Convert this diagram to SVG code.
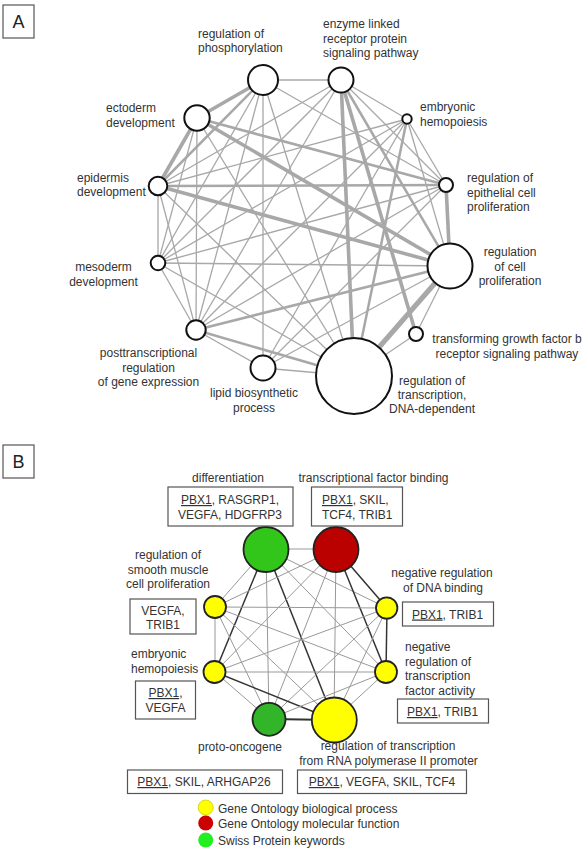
<svg xmlns="http://www.w3.org/2000/svg" width="585" height="856" viewBox="0 0 585 856">
<style>
text{font-family:"Liberation Sans",Arial,sans-serif;font-size:12px;fill:#333}
.c{text-anchor:middle}
.e1{stroke:#a8a8a8;stroke-width:1.3;fill:none}
.e2{stroke:#a8a8a8;stroke-width:2.5;fill:none}
.e3{stroke:#a8a8a8;stroke-width:3.6;fill:none}
.e4{stroke:#a8a8a8;stroke-width:5;fill:none}
.na{fill:#fff;stroke:#111;stroke-width:2}
.bl{stroke:#999;stroke-width:1;fill:none}
.bd{stroke:#333;stroke-width:1.5;fill:none}
.nb{stroke:#222;stroke-width:1.8}
.box{fill:#fff;stroke:#555;stroke-width:1.2}
.u{text-decoration:underline}
.lbl{font-size:18px;fill:#222}
</style>
<g id="labelA"><rect x="3" y="5" width="31" height="33" class="box"/><text x="18.5" y="28" class="c lbl">A</text></g>
<g id="connectorsA">
<line class="e1" x1="263" y1="80" x2="341" y2="80"/>
<line class="e3" x1="263" y1="80" x2="197" y2="118"/>
<line class="e2" x1="263" y1="80" x2="158" y2="186"/>
<line class="e1" x1="263" y1="80" x2="446" y2="185"/>
<line class="e1" x1="263" y1="80" x2="158" y2="263"/>
<line class="e1" x1="263" y1="80" x2="196" y2="330"/>
<line class="e1" x1="263" y1="80" x2="263" y2="368"/>
<line class="e1" x1="263" y1="80" x2="354" y2="376"/>
<line class="e1" x1="341" y1="80" x2="407" y2="119"/>
<line class="e1" x1="341" y1="80" x2="446" y2="185"/>
<line class="e2" x1="341" y1="80" x2="450" y2="266"/>
<line class="e3" x1="341" y1="80" x2="416" y2="334"/>
<line class="e3" x1="341" y1="80" x2="354" y2="376"/>
<line class="e1" x1="341" y1="80" x2="158" y2="186"/>
<line class="e1" x1="341" y1="80" x2="158" y2="263"/>
<line class="e1" x1="341" y1="80" x2="196" y2="330"/>
<line class="e1" x1="407" y1="119" x2="446" y2="185"/>
<line class="e1" x1="407" y1="119" x2="450" y2="266"/>
<line class="e2" x1="407" y1="119" x2="354" y2="376"/>
<line class="e1" x1="407" y1="119" x2="263" y2="368"/>
<line class="e1" x1="407" y1="119" x2="196" y2="330"/>
<line class="e1" x1="407" y1="119" x2="158" y2="263"/>
<line class="e1" x1="407" y1="119" x2="158" y2="186"/>
<line class="e3" x1="446" y1="185" x2="450" y2="266"/>
<line class="e2" x1="446" y1="185" x2="158" y2="186"/>
<line class="e2" x1="446" y1="185" x2="197" y2="118"/>
<line class="e1" x1="446" y1="185" x2="158" y2="263"/>
<line class="e1" x1="446" y1="185" x2="196" y2="330"/>
<line class="e1" x1="446" y1="185" x2="263" y2="368"/>
<line class="e4" x1="450" y1="266" x2="354" y2="376"/>
<line class="e1" x1="450" y1="266" x2="416" y2="334"/>
<line class="e1" x1="450" y1="266" x2="158" y2="263"/>
<line class="e2" x1="450" y1="266" x2="196" y2="330"/>
<line class="e1" x1="450" y1="266" x2="263" y2="368"/>
<line class="e3" x1="450" y1="266" x2="158" y2="186"/>
<line class="e3" x1="450" y1="266" x2="197" y2="118"/>
<line class="e1" x1="416" y1="334" x2="354" y2="376"/>
<line class="e1" x1="354" y1="376" x2="263" y2="368"/>
<line class="e2" x1="354" y1="376" x2="196" y2="330"/>
<line class="e1" x1="354" y1="376" x2="158" y2="263"/>
<line class="e1" x1="354" y1="376" x2="158" y2="186"/>
<line class="e1" x1="354" y1="376" x2="197" y2="118"/>
<line class="e1" x1="263" y1="368" x2="196" y2="330"/>
<line class="e1" x1="196" y1="330" x2="158" y2="263"/>
<line class="e1" x1="196" y1="330" x2="158" y2="186"/>
<line class="e1" x1="196" y1="330" x2="197" y2="118"/>
<line class="e1" x1="158" y1="263" x2="158" y2="186"/>
<line class="e3" x1="158" y1="186" x2="197" y2="118"/>
<line class="e1" x1="158" y1="263" x2="197" y2="118"/>
</g>
<g id="nodeP"><circle class="na" cx="263" cy="80" r="15"/><text x="198" y="37.5">regulation of</text><text x="198" y="52">phosphorylation</text></g>
<g id="nodeEn"><circle class="na" cx="341" cy="80" r="12.5"/><text x="323" y="28">enzyme linked</text><text x="323" y="42.5">receptor protein</text><text x="323" y="57">signaling pathway</text></g>
<g id="nodeEH"><circle class="na" cx="407" cy="119" r="4.7"/><text x="420" y="111">embryonic</text><text x="420" y="125.5">hemopoiesis</text></g>
<g id="nodeREC"><circle class="na" cx="446" cy="185" r="7"/><text x="467" y="182">regulation of</text><text x="467" y="196.5">epithelial cell</text><text x="467" y="211">proliferation</text></g>
<g id="nodeRCP"><circle class="na" cx="450" cy="266" r="22.5"/><text x="510" y="256" class="c">regulation</text><text x="510" y="270.5" class="c">of cell</text><text x="510" y="285" class="c">proliferation</text></g>
<g id="nodeTGF"><circle class="na" cx="416" cy="334" r="7"/><text x="507" y="343" class="c">transforming growth factor b</text><text x="507" y="357.5" class="c">receptor signaling pathway</text></g>
<g id="nodeRT"><circle class="na" cx="354" cy="376" r="38"/><text x="432" y="385" class="c">regulation of</text><text x="432" y="399" class="c">transcription,</text><text x="432" y="413" class="c">DNA-dependent</text></g>
<g id="nodeL"><circle class="na" cx="263" cy="368" r="12.5"/><text x="254" y="397" class="c">lipid biosynthetic</text><text x="254" y="411.5" class="c">process</text></g>
<g id="nodePT"><circle class="na" cx="196" cy="330" r="9.7"/><text x="148.5" y="357" class="c">posttranscriptional</text><text x="148.5" y="371.5" class="c">regulation</text><text x="148.5" y="386" class="c">of gene expression</text></g>
<g id="nodeM"><circle class="na" cx="158" cy="263" r="7.3"/><text x="103.5" y="271" class="c">mesoderm</text><text x="103.5" y="285.5" class="c">development</text></g>
<g id="nodeEp"><circle class="na" cx="158" cy="186" r="9.3"/><text x="77" y="181.5">epidermis</text><text x="77" y="196">development</text></g>
<g id="nodeE"><circle class="na" cx="197" cy="118" r="12.7"/><text x="106" y="112">ectoderm</text><text x="106" y="126.5">development</text></g>

<g id="labelB"><rect x="3" y="445" width="31" height="33" class="box"/><text x="18.5" y="468" class="c lbl">B</text></g>
<g id="connectorsB">
<line class="bl" x1="266" y1="549" x2="336" y2="549"/>
<line class="bl" x1="266" y1="549" x2="215" y2="607"/>
<line class="bl" x1="266" y1="549" x2="387" y2="608"/>
<line class="bl" x1="266" y1="549" x2="386" y2="672"/>
<line class="bl" x1="266" y1="549" x2="269" y2="719"/>
<line class="bd" x1="266" y1="549" x2="215" y2="672"/>
<line class="bd" x1="266" y1="549" x2="334" y2="720"/>
<line class="bl" x1="336" y1="549" x2="215" y2="607"/>
<line class="bl" x1="336" y1="549" x2="215" y2="672"/>
<line class="bl" x1="336" y1="549" x2="269" y2="719"/>
<line class="bl" x1="336" y1="549" x2="334" y2="720"/>
<line class="bd" x1="336" y1="549" x2="387" y2="608"/>
<line class="bd" x1="336" y1="549" x2="386" y2="672"/>
<line class="bl" x1="215" y1="607" x2="387" y2="608"/>
<line class="bl" x1="215" y1="607" x2="215" y2="672"/>
<line class="bl" x1="215" y1="607" x2="386" y2="672"/>
<line class="bl" x1="215" y1="607" x2="269" y2="719"/>
<line class="bl" x1="215" y1="607" x2="334" y2="720"/>
<line class="bl" x1="387" y1="608" x2="215" y2="672"/>
<line class="bd" x1="387" y1="608" x2="386" y2="672"/>
<line class="bl" x1="387" y1="608" x2="269" y2="719"/>
<line class="bl" x1="387" y1="608" x2="334" y2="720"/>
<line class="bl" x1="215" y1="672" x2="386" y2="672"/>
<line class="bl" x1="215" y1="672" x2="269" y2="719"/>
<line class="bd" x1="215" y1="672" x2="334" y2="720"/>
<line class="bl" x1="386" y1="672" x2="269" y2="719"/>
<line class="bl" x1="386" y1="672" x2="334" y2="720"/>
<line class="bd" x1="269" y1="719" x2="334" y2="720" style="stroke-width:2"/>
</g>
<g id="nodeDiff"><circle class="nb" cx="266" cy="549.5" r="22.5" fill="#33c61a"/><text x="228" y="482" class="c">differentiation</text><rect class="box" x="168" y="487" width="125" height="39"/><text x="230" y="504" class="c"><tspan class="u">PBX1,</tspan> RASGRP1,</text><text x="230" y="518.5" class="c">VEGFA, HDGFRP3</text></g>
<g id="nodeTFB"><circle class="nb" cx="336" cy="549.5" r="22.5" fill="#bb0000"/><text x="373.5" y="482" class="c">transcriptional factor binding</text><rect class="box" x="311.5" y="487" width="91" height="39"/><text x="322" y="504"><tspan class="u">PBX1</tspan>, SKIL,</text><text x="322" y="518.5">TCF4, TRIB1</text></g>
<g id="nodeSM"><circle class="nb" cx="215" cy="607" r="11" fill="#ffff00"/><text x="168" y="559" class="c">regulation of</text><text x="168" y="573.5" class="c">smooth muscle</text><text x="168" y="588" class="c">cell proliferation</text><rect class="box" x="130" y="599" width="66" height="35"/><text x="163" y="615" class="c">VEGFA,</text><text x="163" y="629" class="c">TRIB1</text></g>
<g id="nodeNDB"><circle class="nb" cx="386.7" cy="608" r="10.7" fill="#ffff00"/><text x="442" y="577" class="c">negative regulation</text><text x="443" y="591.5" class="c">of DNA binding</text><rect class="box" x="402.5" y="602" width="91" height="24"/><text x="447.5" y="618.5" class="c"><tspan class="u">PBX1</tspan>, TRIB1</text></g>
<g id="nodeEHb"><circle class="nb" cx="214.5" cy="672" r="11" fill="#ffff00"/><text x="131" y="658">embryonic</text><text x="131" y="673">hemopoiesis</text><rect class="box" x="135.5" y="681" width="60" height="38"/><text x="165.5" y="697" class="c"><tspan class="u">PBX1</tspan>,</text><text x="165.5" y="711.5" class="c">VEGFA</text></g>
<g id="nodeNTF"><circle class="nb" cx="386" cy="672" r="11" fill="#ffff00"/><text x="405" y="651">negative</text><text x="405" y="665.5">regulation of</text><text x="405" y="680">transcription</text><text x="405" y="694.5">factor activity</text><rect class="box" x="397.5" y="699" width="91" height="24"/><text x="442.5" y="716" class="c"><tspan class="u">PBX1</tspan>, TRIB1</text></g>
<g id="nodePO"><circle class="nb" cx="269" cy="719.3" r="16.5" fill="#33b52a"/><text x="240" y="751" class="c">proto-oncogene</text><rect class="box" x="127.5" y="770" width="155" height="23.5"/><text x="204" y="786" class="c"><tspan class="u">PBX1</tspan>, SKIL, ARHGAP26</text></g>
<g id="nodeRTP"><circle class="nb" cx="334.3" cy="720" r="22.5" fill="#ffff00"/><text x="388" y="750" class="c">regulation of transcription</text><text x="388.5" y="765" class="c">from RNA polymerase II promoter</text><rect class="box" x="297.5" y="770" width="169" height="23.5"/><text x="382" y="786" class="c"><tspan class="u">PBX1</tspan>, VEGFA, SKIL, TCF4</text></g>
<g id="legend">
<circle cx="205.7" cy="807.5" r="7.5" fill="#ffff00" stroke="#cccc00" stroke-width="0.8"/><text x="218" y="812.5">Gene Ontology biological process</text>
<circle cx="205.7" cy="823" r="7.5" fill="#cc0000"/><text x="218" y="828">Gene Ontology molecular function</text>
<circle cx="205.7" cy="840" r="7.5" fill="#22ee22"/><text x="218" y="845">Swiss Protein keywords</text>
</g>
</svg>
